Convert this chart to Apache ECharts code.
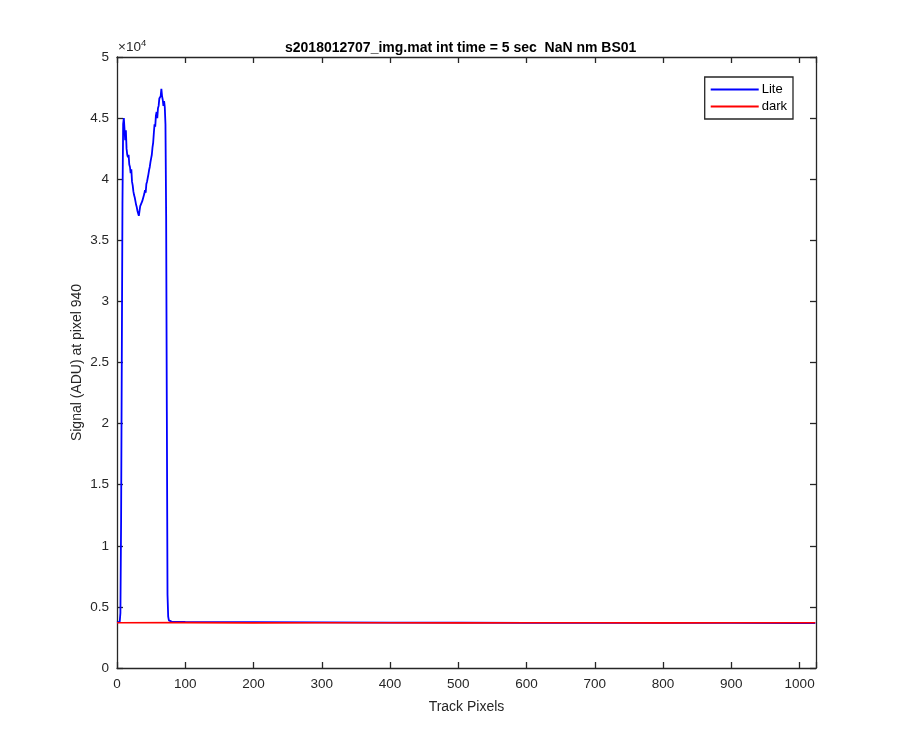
<!DOCTYPE html>
<html><head><meta charset="utf-8">
<script src="https://cdn.jsdelivr.net/npm/echarts@6/dist/echarts.min.js"></script>
<style>html,body{margin:0;padding:0;background:#fff}#c{width:900px;height:750px}</style>
</head><body><div id="c"></div>
<script>
const titleText = 's2018012707_img.mat int time = 5 sec  NaN nm BS01';
const xAxisLabel = 'Track Pixels';
const yAxisLabel = 'Signal (ADU) at pixel 940';
const seriesNames = ['Lite', 'dark'];
const xTicks = [0, 100, 200, 300, 400, 500, 600, 700, 800, 900, 1000];
const yTickLabels = ['0', '0.5', '1', '1.5', '2', '2.5', '3', '3.5', '4', '4.5', '5'];
const litePixels = [0,2,4,5,6,7,8,9,10,11,12,13,14,15,16,17,18,19,20,21,22,23,24,25,26,27,28,29,30,31,32,33,34,35,36,37,38,39,40,41,42,43,44,45,46,47,48,49,50,51,52,53,54,55,56,57,58,59,60,61,62,63,64,65,66,67,68,69,70,71,72,73,74,75,76,77,80,100,150,200,300,400,500,600,700,800,900,1000,1023];
const liteValues = [3720,3750,3800,4500,12000,25000,38000,44500,45000,45000,43200,44000,42500,42000,41800,42000,41200,41000,40500,40800,39800,39500,39000,38700,38500,38200,37900,37700,37400,37200,37000,37400,37800,37900,37700,38200,38300,38100,38800,39100,38900,39600,39800,40100,40400,40750,41000,41400,41700,42000,42600,43000,43800,44500,44300,45200,45500,45000,45800,46000,46600,46500,46800,47400,46800,46500,46000,46400,45900,44500,37000,21000,6000,4200,3900,3850,3800,3780,3760,3750,3730,3720,3710,3700,3700,3690,3690,3680,3680];
const darkPixels = [0,100,200,300,400,500,600,700,800,900,1000,1023];
const darkValues = [3700,3710,3690,3700,3705,3695,3700,3700,3695,3700,3700,3700];

const lite = litePixels.map((p, i) => [p, liteValues[i]]);
const dark = darkPixels.map((p, i) => [p, darkValues[i]]);

const axisColor = '#262626';
const font = 'Liberation Sans, Arial, sans-serif';
const chart = echarts.init(document.getElementById('c'));
const xBase = {
  type: 'value', min: 0, max: 1024, interval: 100,
  axisLine: {onZero: false, lineStyle: {color: axisColor, width: 1.3}},
  axisTick: {inside: true, length: 6, lineStyle: {color: axisColor, width: 1.3}},
  splitLine: {show: false}
};
const yBase = {
  type: 'value', min: 0, max: 50000, interval: 5000,
  axisLine: {show: true, onZero: false, lineStyle: {color: axisColor, width: 1.3}},
  axisTick: {show: true, inside: true, length: 6, lineStyle: {color: axisColor, width: 1.3}},
  splitLine: {show: false}
};
chart.setOption({
  animation: false,
  backgroundColor: '#fff',
  title: {
    text: titleText, left: 280, top: 36,
    textStyle: {fontFamily: font, fontSize: 14, fontWeight: 'bold', color: '#000'}
  },
  grid: {left: 117, right: 84, top: 57, bottom: 82},
  legend: {
    data: seriesNames, orient: 'vertical', right: 107, top: 77,
    icon: 'rect',
    backgroundColor: '#fff', borderColor: axisColor, borderWidth: 1.3, borderRadius: 0,
    padding: [6, 6, 6, 6], itemGap: 4, itemWidth: 48, itemHeight: 2,
    textStyle: {fontFamily: font, fontSize: 13, color: '#000', padding: [0, 0, 0, -2]}
  },
  xAxis: [
    Object.assign({}, xBase, {
      position: 'bottom', name: xAxisLabel, nameLocation: 'middle', nameGap: 32,
      nameMoveOverlap: false,
      nameTextStyle: {fontFamily: font, fontSize: 14, color: axisColor},
      axisLabel: {fontFamily: font, fontSize: 13.5, color: axisColor, margin: 9,
        formatter: v => xTicks.includes(v) ? String(v) : ''}
    }),
    Object.assign({}, xBase, {position: 'top', axisLabel: {show: false}})
  ],
  yAxis: [
    Object.assign({}, yBase, {
      position: 'left', name: yAxisLabel, nameLocation: 'middle', nameGap: 33,
      nameMoveOverlap: false,
      nameTextStyle: {fontFamily: font, fontSize: 14, color: axisColor},
      axisLabel: {fontFamily: font, fontSize: 13.5, color: axisColor, margin: 8,
        formatter: (v) => yTickLabels[Math.round(v / 5000)]}
    }),
    Object.assign({}, yBase, {position: 'right', axisLabel: {show: false}})
  ],
  graphic: [{
    type: 'text', left: 118, top: 38,
    style: {
      text: '{a|×10}{b|4}', fill: axisColor,
      rich: {
        a: {fontFamily: font, fontSize: 13.5, color: axisColor, verticalAlign: 'bottom'},
        b: {fontFamily: font, fontSize: 9.5, color: axisColor, verticalAlign: 'top', padding: [0, 0, 6, 0]}
      }
    }
  }],
  series: [
    {name: seriesNames[0], type: 'line', data: lite, symbol: 'none', color: '#0000ff',
      lineStyle: {width: 1.8, color: '#0000ff'}, xAxisIndex: 0, yAxisIndex: 0},
    {name: seriesNames[1], type: 'line', data: dark, symbol: 'none', color: '#ff0000',
      lineStyle: {width: 1.6, color: '#ff0000'}, xAxisIndex: 0, yAxisIndex: 0}
  ]
});
</script></body></html>
